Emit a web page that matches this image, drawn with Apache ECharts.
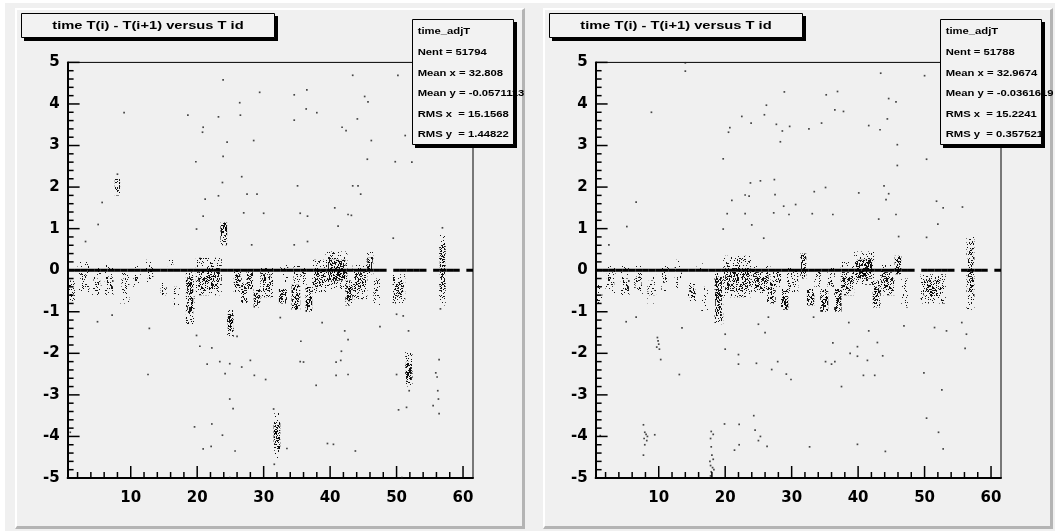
<!DOCTYPE html>
<html><head><meta charset="utf-8">
<script src="https://cdn.jsdelivr.net/npm/echarts@6/dist/echarts.min.js"></script>
<style>
html,body{margin:0;padding:0;background:#fff}
#wrap{position:relative;width:1055px;height:531px;overflow:hidden}
#canvasbg{position:absolute;left:5px;top:3px;width:1050px;height:528px;background:#f0f0f0}
.pad{position:absolute;top:8px;width:505px;height:516px;background:#f0f0f0;border-left:2px solid #fff;border-top:2px solid #fff;border-right:3px solid #b4b4b4;border-bottom:3px solid #b4b4b4}
#c{position:absolute;left:0;top:0;width:1055px;height:531px}
</style>
</head><body><div id="wrap"><div id="canvasbg"></div><div class="pad" style="left:15px"></div><div class="pad" style="left:543px"></div><div id="c"></div></div>
<script>
// ---------------- data ----------------
const titleText = 'time T(i) - T(i+1) versus T id';
const statsA = ['time_adjT', 'Nent = 51794', 'Mean x = 32.808', 'Mean y = -0.0571113', 'RMS x  = 15.1568', 'RMS y  = 1.44822'];
const statsB = ['time_adjT', 'Nent = 51788', 'Mean x = 32.9674', 'Mean y = -0.0361619', 'RMS x  = 15.2241', 'RMS y  = 0.357521'];
const xMajorTicks = [10, 20, 30, 40, 50, 60];
const xMinorTicks = [2, 4, 6, 8, 12, 14, 16, 18, 22, 24, 26, 28, 32, 34, 36, 38, 42, 44, 46, 48, 52, 54, 56, 58];
const yMajorTicks = [-5, -4, -3, -2, -1, 0, 1, 2, 3, 4, 5];
const yMinorPerMajor = 5;
// T id bins that hold the dense band of entries at exactly 0
const zeroBins = [1,2,3,4,5,6,7,8,9,10,11,12,13,14,15,16,17,18,19,20,21,22,23,24,25,26,27,28,29,30,31,32,33,34,35,36,37,38,39,40,41,42,43,44,45,46,47,48,50,51,52,53,54,56,57,58,59,61];
// dense regions: [x from, x to, y from, y to, density level 1..4]
const clustersA = [
  [0.6,1.6,-0.75,-0.25,2],[2.0,3.8,-0.55,0.2,1],[2.4,3.4,-0.45,-0.1,2],
  [4.2,5.6,-0.6,0.05,1],[4.4,5.4,-0.5,-0.2,2],[6.1,7.4,-0.6,0.15,1],[6.3,7.3,-0.45,-0.15,3],
  [8.4,9.8,-0.8,0.0,1],[8.6,9.6,-0.55,-0.2,2],[10.2,11.5,-0.4,0.1,1],[10.4,11.4,-0.3,-0.1,2],
  [12.3,13.5,-0.3,0.25,1],[12.5,13.4,-0.2,0.05,2],[14.5,15.4,-0.6,-0.3,3],[15.6,16.4,0.0,0.3,1],
  [16.5,17.4,-0.9,-0.4,1],[18.3,19.6,-1.3,-0.05,2],[18.5,19.4,-1.05,-0.15,4],
  [19.8,23.7,-0.6,0.3,2],[20.2,23.4,-0.45,0.05,3],[23.5,24.5,0.6,1.15,4],
  [24.5,25.5,-1.6,-0.95,2],[24.6,25.4,-1.5,-1.05,4],[25.5,26.7,-0.55,0.05,2],[25.7,26.5,-0.45,-0.1,4],
  [26.6,27.6,-0.8,-0.3,3],[27.4,28.4,-0.45,-0.05,4],[28.5,29.5,-0.9,-0.45,4],
  [29.5,31.4,-0.65,0.05,2],[29.8,31.0,-0.5,-0.1,3],[32.3,33.5,-0.8,-0.45,4],[32.5,33.7,-0.35,0.15,1],
  [34.2,35.5,-0.95,-0.35,4],[34.5,35.5,-0.3,0.1,2],[35.5,36.5,-0.35,0.05,2],[36.3,37.3,-1.0,-0.4,4],
  [37.3,39.4,-0.55,0.25,2],[37.6,39.2,-0.4,0.0,3],[39.3,42.6,-0.45,0.45,2],[39.7,42.3,-0.25,0.25,4],
  [42.3,43.4,-0.85,-0.25,3],[42.5,43.3,-0.75,-0.35,4],[43.4,45.6,-0.7,0.15,2],[43.6,45.4,-0.5,-0.05,3],
  [45.5,46.5,-0.1,0.45,2],[45.6,46.4,0.0,0.3,4],[46.5,47.5,-0.85,-0.2,2],
  [49.4,51.3,-0.8,-0.1,2],[49.6,51.0,-0.6,-0.25,3],[56.4,57.4,-0.85,0.85,2],[56.5,57.3,-0.5,0.6,3],
  [7.6,8.4,1.8,2.2,3],[31.5,32.5,-4.3,-3.65,4],[31.6,32.4,-4.6,-3.4,1],
  [51.3,52.4,-2.8,-1.95,2],[51.4,52.3,-2.65,-2.2,4]
];
const clustersB = [
  [0.5,1.5,-0.85,-0.35,2],[2.0,3.5,-0.55,0.2,1],[2.2,3.3,-0.4,-0.05,2],
  [4.3,5.6,-0.6,0.1,1],[4.5,5.5,-0.5,-0.2,3],[6.3,7.6,-0.6,0.1,1],[6.5,7.4,-0.45,-0.15,3],
  [8.3,9.6,-0.8,-0.05,1],[8.5,9.4,-0.6,-0.25,2],[10.4,11.6,-0.5,0.1,1],[10.5,11.4,-0.3,-0.05,2],
  [12.4,13.5,-0.45,0.25,1],[12.5,13.4,-0.2,0.05,2],[14.4,15.6,-0.75,-0.3,2],[14.6,15.5,-0.65,-0.4,3],
  [15.7,16.6,0.0,0.25,1],[16.4,17.4,-1.0,-0.4,1],[18.4,19.7,-1.3,-0.05,2],[18.5,19.5,-1.1,-0.15,4],
  [19.7,24.0,-0.65,0.35,2],[20.0,23.8,-0.5,0.05,3],[24.0,26.8,-0.55,0.1,2],[24.2,26.5,-0.45,-0.05,3],
  [26.3,27.6,-0.8,-0.25,3],[27.2,28.4,-0.4,0.0,3],[28.4,29.5,-0.95,-0.45,4],[29.3,31.0,-0.55,0.05,2],
  [31.3,32.2,-0.2,0.4,4],[32.3,33.4,-0.85,-0.45,4],[33.4,34.4,-0.4,0.0,2],[34.3,35.5,-1.0,-0.45,4],
  [35.4,36.5,-0.4,0.05,2],[36.4,37.5,-1.0,-0.45,4],[37.4,39.4,-0.6,0.2,2],[37.6,39.2,-0.45,-0.05,3],
  [39.4,42.4,-0.35,0.45,2],[39.7,42.1,-0.2,0.25,4],[42.2,43.4,-0.9,-0.25,3],[42.4,43.2,-0.8,-0.4,4],
  [43.3,45.5,-0.6,0.15,2],[43.5,45.3,-0.45,-0.05,3],[45.5,46.5,-0.1,0.35,4],[46.5,47.5,-0.9,-0.2,2],
  [49.4,53.2,-0.8,-0.1,2],[49.8,52.6,-0.6,-0.25,3],[56.3,57.5,-0.95,0.8,2],[56.5,57.3,-0.6,0.5,3]
];
// isolated entries [T id, dT]
const pointsA = [
  [9.0,3.79],[18.6,3.73],[23.2,3.69],[23.9,4.58],[26.4,4.03],[26.5,3.73],[29.4,4.28],[34.6,4.22],[36.5,4.34],[36.4,3.88],
  [38.0,3.79],[34.6,3.61],[43.4,4.69],[50.2,4.69],[45.2,4.18],[45.7,4.05],[44.1,3.64],[41.8,3.44],[42.4,3.36],[20.9,3.44],
  [20.8,3.32],[28.5,3.12],[24.5,3.08],[23.9,2.74],[46.2,3.12],[51.3,3.24],[19.8,2.61],[45.6,2.67],[49.8,2.61],[52.3,2.6],
  [8.0,2.31],[26.7,2.25],[5.7,1.63],[5.1,1.1],[21.2,1.71],[23.2,1.79],[23.8,2.11],[27.5,1.83],[29,1.83],[35.1,2.03],
  [43.4,2.03],[44.2,2.03],[44.6,1.83],[27,1.38],[30,1.37],[35.5,1.37],[36.6,1.3],[40.7,1.5],[42.7,1.34],[43.2,1.32],
  [19.9,0.99],[20.9,1.3],[28.2,0.61],[34.6,0.61],[36.6,0.69],[41.2,1.06],[49.5,0.77],[56.9,1.02],[3.2,0.69],[5.0,-1.24],
  [7.2,-1.08],[12.8,-1.4],[19.9,-1.57],[20.4,-1.83],[22.2,-1.87],[26,-1.59],[32.5,-1.14],[35.6,-1.71],[38.8,-1.26],[42.2,-1.46],
  [42.7,-1.67],[47.5,-1.36],[50,-1.06],[51,-1.1],[51.8,-1.46],[56.4,-2.15],[56.6,-0.93],[41.7,-1.95],[35.5,-2.2],[23.4,-2.2],
  [21.5,-2.26],[24.9,-2.25],[26.7,-2.33],[28,-2.17],[36,-2.21],[40.9,-2.21],[41.6,-2.17],[12.6,-2.51],[24.2,-2.49],[28.6,-2.53],
  [30.3,-2.63],[40.9,-2.53],[42.7,-2.51],[37.9,-2.77],[50,-2.51],[55.9,-2.47],[56.1,-2.57],[56.2,-2.9],[56.3,-3.1],[55.5,-3.26],
  [56.4,-3.45],[51.9,-2.9],[50.3,-3.36],[51.5,-3.3],[24.9,-3.1],[25.4,-3.33],[31.5,-3.34],[19.6,-3.77],[22.2,-3.7],[23.8,-3.97],
  [20.9,-4.3],[22.1,-4.24],[25.7,-4.35],[33.5,-4.29],[39.6,-4.17],[40.5,-4.19],[43.8,-4.35],[31.6,-4.67],[0.9,-3.9],[24.9,-4.99],[50.8,-4.99]
];
const pointsB = [
  [14,4.99],[14,4.79],[8.9,3.8],[20.7,3.43],[20.5,3.32],[22.5,3.7],[23.9,3.54],[26.2,3.97],[25.9,3.74],[27.7,3.51],
  [28.6,3.35],[29.7,3.46],[28.9,4.29],[28.3,3.09],[32.6,3.40],[34.5,3.54],[35.2,4.22],[36.9,4.3],[36.5,3.86],[37.8,3.82],
  [41.6,3.48],[43.3,3.38],[44.4,3.64],[44.6,4.13],[45.7,4.05],[43.4,4.74],[50,4.68],[45.9,3.02],[50.3,2.67],[45.9,2.52],
  [19.7,2.68],[27.4,2.18],[6.6,1.64],[5.2,1.05],[2.5,0.61],[21,1.68],[23,1.81],[23.6,1.78],[25.3,2.15],[23.8,2.1],
  [27.5,1.82],[28.8,1.54],[30.6,1.58],[33.4,1.89],[35.1,1.99],[40.1,1.86],[43.9,2.03],[44.6,1.84],[44.2,1.70],[51.8,1.66],
  [52.8,1.5],[55.7,1.52],[23,1.36],[27.3,1.38],[29.6,1.34],[33.1,1.36],[36.2,1.34],[43.1,1.23],[45.7,1.34],[20.3,1.36],
  [19.7,0.99],[24,1.09],[25.8,0.77],[50.3,0.79],[52,1.11],[46.1,0.81],[6.6,-1.13],[5.1,-1.24],[13.5,-1.39],[9.8,-1.62],
  [9.9,-1.7],[10.0,-1.78],[9.7,-1.85],[10.1,-1.9],[10.3,-2.15],[20,-1.54],[20,-1.9],[22,-2.03],[25,-1.3],[26,-1.5],
  [26.5,-1.13],[33.3,-1.13],[35.1,-2.2],[36.2,-1.75],[38.6,-1.26],[39.9,-1.84],[41.6,-1.46],[42.9,-1.74],[43.7,-2.06],[46.9,-1.34],
  [51.5,-1.38],[53.3,-1.46],[55.6,-1.26],[56.3,-1.54],[56.1,-1.88],[38.8,-2.0],[39.9,-2.07],[13.1,-2.51],[22,-2.26],[24.7,-2.24],
  [27,-2.39],[27.9,-2.2],[29.2,-2.5],[29.9,-2.63],[36,-2.26],[36.5,-2.2],[40.8,-2.53],[42.5,-2.53],[41.4,-2.17],[37.5,-2.8],
  [49.9,-2.47],[52.6,-2.88],[50.3,-3.56],[52.1,-3.9],[52.8,-4.3],[24.3,-3.5],[24.5,-3.85],[25.3,-4.0],[25,-4.1],[26.3,-4.24],
  [19.9,-3.7],[22.1,-3.71],[21.4,-4.33],[22.1,-4.2],[32.7,-4.25],[39.9,-4.19],[44.1,-4.36],[1.2,-3.98],
  [7.7,-3.72],[7.9,-3.9],[8.1,-3.95],[7.8,-4.05],[8.2,-4.1],[7.9,-4.2],[7.7,-4.45],[8.3,-4.0],[9.4,-3.96],
  [17.9,-3.88],[18.2,-3.95],[17.8,-4.05],[17.9,-4.25],[18.0,-4.45],[18.2,-4.55],[17.7,-4.6],[17.8,-4.7],[18.1,-4.75],[17.9,-4.85],[18.3,-4.8],[17.8,-4.95]
];

// ---------------- styling ----------------
const LBL_FONT = 'DejaVu Sans';
const TXT_FONT = 'Liberation Sans';
const X_MIN = 0.5, X_MAX = 61.5, Y_MIN = -5, Y_MAX = 5;
// stipple textures used to fill the dense regions (fill style only)
function stipple(coverage, seed) {
  const w = 43, h = 37;
  const c = document.createElement('canvas'); c.width = w; c.height = h;
  const ctx = c.getContext('2d');
  ctx.fillStyle = 'rgba(0,0,0,0.9)';
  let s = seed;
  const n = Math.round(w * h * coverage);
  for (let k = 0; k < n; k++) {
    s = (s * 16807) % 2147483647; const px = s % w;
    s = (s * 16807) % 2147483647; const py = s % h;
    ctx.fillRect(px, py, 1, 1);
  }
  return { image: c, repeat: 'repeat' };
}
const textures = [null, stipple(0.07, 11), stipple(0.16, 97), stipple(0.30, 313), stipple(0.50, 7919)];

const frameBox = { top: 62.4, width: 405.4, height: 415.6 };
const frameLefts = [67.6, 595.6];

// tick marks (ROOT style, pointing into the frame): [axis 0=x / 1=y, value, length px]
const tickData = [];
xMajorTicks.forEach(function (v) { tickData.push([0, v, 12]); });
xMinorTicks.forEach(function (v) { tickData.push([0, v, 6]); });
yMajorTicks.forEach(function (v, k) {
  tickData.push([1, v, 12]);
  if (k < yMajorTicks.length - 1) {
    const step = (yMajorTicks[k + 1] - v) / yMinorPerMajor;
    for (let m = 1; m < yMinorPerMajor; m++) tickData.push([1, v + m * step, 6]);
  }
});

function clusterItem(params, api) {
  const a = api.coord([api.value(0), api.value(3)]);
  const b = api.coord([api.value(1), api.value(2)]);
  return { type: 'rect', shape: { x: a[0], y: a[1], width: b[0] - a[0], height: b[1] - a[1] },
           style: { fill: textures[api.value(4)] } };
}
function zeroItem(params, api) {
  const a = api.coord([api.value(0) - 0.5, api.value(1)]);
  const b = api.coord([api.value(0) + 0.5, api.value(1)]);
  return { type: 'rect', shape: { x: a[0], y: a[1] - 1.5, width: b[0] - a[0], height: 3 }, style: { fill: '#000' } };
}
function tickItem(params, api) {
  const isY = api.value(0) === 1, v = api.value(1), len = api.value(2);
  const p = isY ? api.coord([X_MIN, v]) : api.coord([v, Y_MIN]);
  const shape = isY ? { x1: p[0], y1: p[1], x2: p[0] + len, y2: p[1] }
                    : { x1: p[0], y1: p[1], x2: p[0], y2: p[1] - len };
  return { type: 'line', shape: shape, style: { stroke: '#000', lineWidth: 1.5 } };
}

const grids = [], xAxes = [], yAxes = [], series = [];
[0, 1].forEach(function (i) {
  grids.push(Object.assign({ left: frameLefts[i], show: true, borderColor: '#000', borderWidth: 1, backgroundColor: 'transparent' }, frameBox));
  xAxes.push({
    gridIndex: i, type: 'value', min: X_MIN, max: X_MAX, position: 'bottom',
    axisLine: { show: true, onZero: false, lineStyle: { color: '#000', width: 2 } },
    axisTick: { show: false },
    axisLabel: { customValues: xMajorTicks, color: '#000', fontFamily: LBL_FONT, fontWeight: 'bold', fontSize: 15, margin: 13 },
    splitLine: { show: false }
  });
  yAxes.push({
    gridIndex: i, type: 'value', min: Y_MIN, max: Y_MAX, interval: 1, position: 'left',
    axisLine: { show: true, onZero: false, lineStyle: { color: '#000', width: 2 } },
    axisTick: { show: false }, minorTick: { show: false },
    axisLabel: { color: '#000', fontFamily: LBL_FONT, fontWeight: 'bold', fontSize: 15, margin: 8 },
    splitLine: { show: false }, minorSplitLine: { show: false }
  });
  const clusters = i === 0 ? clustersA : clustersB;
  const pts = i === 0 ? pointsA : pointsB;
  series.push({ type: 'custom', xAxisIndex: i, yAxisIndex: i, silent: true, clip: true, z: 2,
    renderItem: clusterItem, encode: { x: [0, 1], y: [2, 3] }, data: clusters });
  series.push({ type: 'custom', xAxisIndex: i, yAxisIndex: i, silent: true, clip: true, z: 3,
    renderItem: zeroItem, encode: { x: 0, y: 1 }, data: zeroBins.map(function (b) { return [b, 0]; }) });
  series.push({ type: 'scatter', xAxisIndex: i, yAxisIndex: i, silent: true, z: 4,
    symbol: 'rect', symbolSize: 1.7, itemStyle: { color: '#1a1a1a' }, data: pts });
  series.push({ type: 'custom', xAxisIndex: i, yAxisIndex: i, silent: true, clip: false, z: 5,
    renderItem: tickItem, encode: { x: 1 }, data: tickData });
});

// title and statistics boxes
const graphics = [];
function rect(x, y, w, h, fill, z, stroke) {
  graphics.push({ type: 'rect', silent: true, z: z, shape: { x: x, y: y, width: w, height: h },
    style: stroke ? { fill: fill, stroke: stroke, lineWidth: 1 } : { fill: fill } });
}
[0, 528].forEach(function (off, i) {
  rect(24 + off, 16, 254, 25, '#000', 40);
  rect(21.5 + off, 13.5, 253, 24, '#f2f2f2', 41, '#000');
  graphics.push({ type: 'text', z: 42, silent: true, x: 148 + off, y: 26, scaleX: 1.36,
    style: { text: titleText, font: 'bold 10.8px "' + TXT_FONT + '"', fill: '#000', align: 'center', verticalAlign: 'middle' } });
  rect(415 + off, 22, 102, 126, '#000', 40);
  const stats = i === 0 ? statsA : statsB;
  stats.forEach(function (t, k) {
    graphics.push({ type: 'text', z: 42, silent: true, x: 417.7 + off, y: 31.7 + k * 20.66, scaleX: 1.25,
      style: { text: t, font: 'bold 9px "' + TXT_FONT + '"', fill: '#000', align: 'left', verticalAlign: 'middle' } });
  });
  rect(412.5 + off, 19.5, 101, 125, '#f2f2f2', 41, '#000');
});

const chart = echarts.init(document.getElementById('c'), null, { renderer: 'canvas' });
chart.setOption({
  animation: false,
  backgroundColor: 'transparent',
  grid: grids,
  xAxis: xAxes,
  yAxis: yAxes,
  graphic: { elements: graphics },
  series: series
});
</script></body></html>
